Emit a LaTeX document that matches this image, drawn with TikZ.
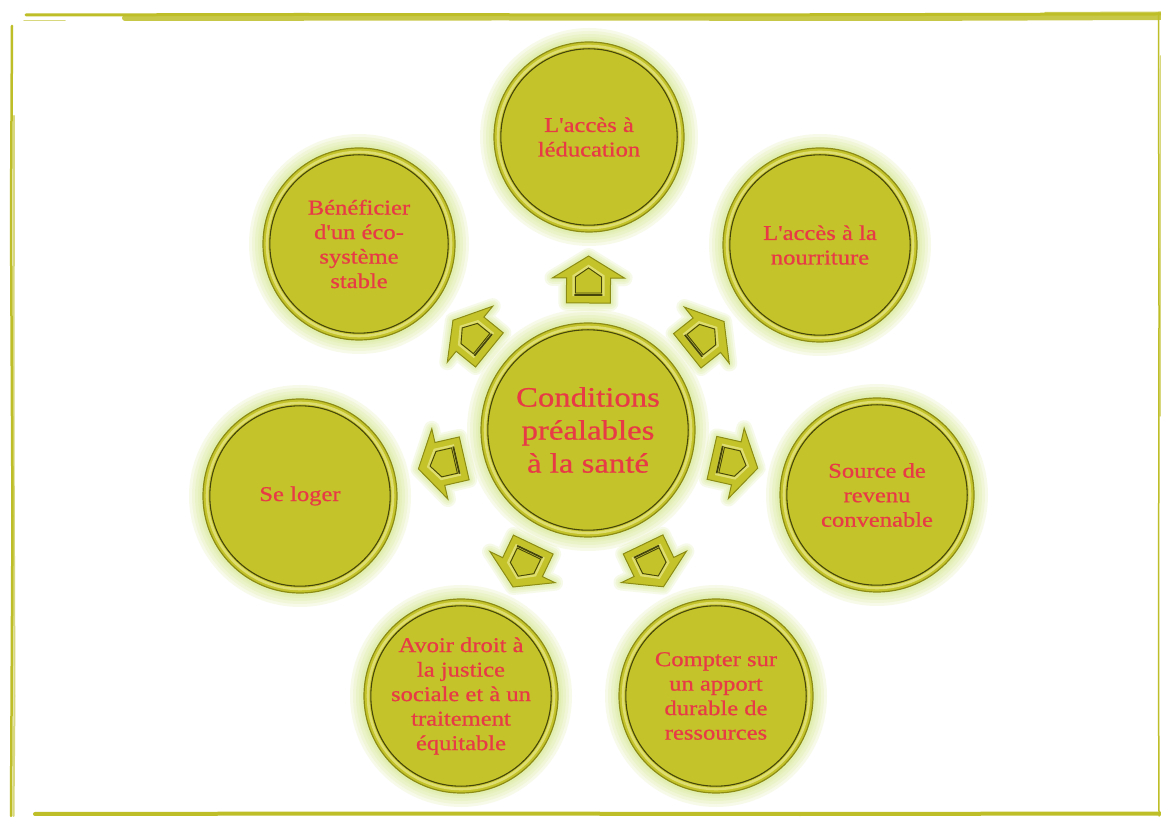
\documentclass[tikz,border=0pt]{standalone}
\usepackage{fontspec}
\newfontfamily\lab[FakeStretch=1.17,FakeBold=0.7,Ligatures=TeXOff]{Liberation Serif}
\usetikzlibrary{calc}
\definecolor{coin}{RGB}{196,195,42}
\definecolor{coinedge}{RGB}{140,140,20}
\definecolor{coinlight}{RGB}{222,222,112}
\definecolor{coindark}{RGB}{70,70,10}
\definecolor{halo}{RGB}{210,230,130}
\definecolor{txt}{RGB}{232,58,70}
\definecolor{bord}{RGB}{190,190,40}
\tikzset{
  coinnode/.style={circle, inner sep=0pt, fill=coin, draw=coinedge, line width=1.2pt,
    text=txt, align=center, font=\lab\fontsize{21}{24.5}\selectfont},
  bigtext/.style={font=\lab\fontsize{28}{33}\selectfont},
  bordstroke/.style={draw=bord, line cap=round},
  blockarr/.pic={
    \foreach \w in {16,12,8,5}{
      \path[draw=halo, line width=\w pt, line join=round, opacity=.18]
        (-23,-22) -- (2,-22) -- (2,-36) -- (24,0) -- (2,36) -- (2,22) -- (-23,22) -- cycle;
    }
    \path[fill=coin, draw=coinedge, line width=1pt, line join=miter]
      (-23,-22) -- (2,-22) -- (2,-36) -- (24,0) -- (2,36) -- (2,22) -- (-23,22) -- cycle;
    \path[draw=coinlight, line width=2.2pt]
      (-15,-15) -- (4,-15) -- (14,0) -- (4,15) -- (-15,15) -- cycle;
    \path[draw=coindark, line width=0.9pt]
      (-13,-13) -- (3,-13) -- (12,0) -- (3,13) -- (-13,13) -- cycle;
    \path[draw=coindark, line width=1.8pt] (-15,-14) -- (-15,14);
  }
}
\newcommand\mycoin[5][coinnode]{%
  \foreach \e in {14,11,8,5,3}{
    \fill[halo, opacity=0.17] (#3) circle[radius={(#4+\e)*1pt}];
  }
  \node[coinnode, #1, minimum size={2*#4pt}] (#2) at (#3) {#5};
  \draw[coinlight, line width=2.6pt] (#2.center) circle[radius={(#4-4)*1pt}];
  \draw[coindark, line width=1.1pt] (#2.center) circle[radius={(#4-6.8)*1pt}];
}
\begin{document}
\begin{tikzpicture}[x=1pt,y=1pt]
\useasboundingbox[fill=white] (0,0) rectangle (1161,816);
% hand-drawn frame
\draw[bordstroke, line width=3pt] (26,801) -- (300,801.5) -- (700,801) -- (1161,802);
\draw[bordstroke, line width=6pt, opacity=.85] (125,798) -- (500,798.5) -- (900,798) -- (1161,799);
\draw[bordstroke, line width=1.5pt, opacity=.6] (24,795.5) -- (65,795.5);
\draw[bordstroke, line width=2pt, opacity=.7] (1045,803) -- (1161,803.5);
\draw[bordstroke, line width=2.5pt] (12,790) -- (11,600) -- (12.5,300) -- (11,0);
\draw[bordstroke, line width=2pt, opacity=.6] (14,700) -- (13.5,400) -- (14.5,120) -- (13.5,0);
\draw[bordstroke, line width=4pt] (35,2) -- (400,2.5) -- (800,2) -- (1161,2.5);
\draw[bordstroke, line width=1.5pt] (1158.5,803) -- (1159,500) -- (1158.5,150) -- (1159,0);
\draw[bordstroke, line width=1.5pt, opacity=.6] (1160.5,760) -- (1160,400);
% coins
\mycoin[bigtext]{c}{588,386}{107}{Conditions\\préalables\\à la santé}
\mycoin{top}{589,679}{95}{L'accès à\\léducation}
\mycoin{tl}{359,572}{96}{Bénéficier\\d'un éco-\\système\\stable}
\mycoin{tr}{820,571}{97}{L'accès à la\\nourriture}
\mycoin{l}{300,320}{97}{Se loger}
\mycoin{r}{877,321}{97}{Source de\\revenu\\convenable}
\mycoin{bl}{461,120}{97}{Avoir droit à\\la justice\\sociale et à un\\traitement\\équitable}
\mycoin{br}{716,120}{97}{Compter sur\\un apport\\durable de\\ressources}
% block arrows
\foreach \t in {top,tl,tr,l,r,bl,br}{
  \path let \p1=($(\t.center)-(c.center)$), \n1={atan2(\y1,\x1)} in
    pic[rotate=\n1] at ($(c.center)!150pt!(\t.center)$) {blockarr};
}
\end{tikzpicture}
\end{document}
